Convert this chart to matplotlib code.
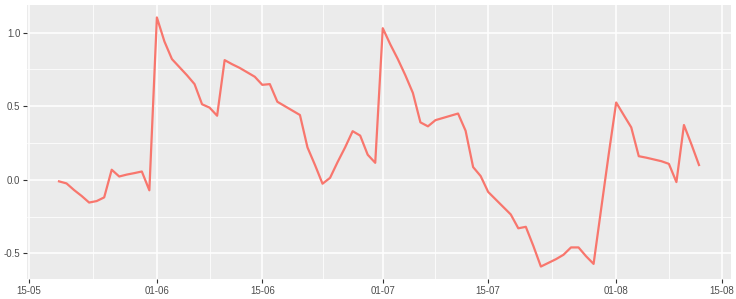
import datetime as dt

import matplotlib
matplotlib.use('Agg')
import matplotlib.pyplot as plt
import matplotlib.dates as mdates
import numpy as np

plt.rcParams['font.family'] = ['Liberation Sans', 'DejaVu Sans']

# daily values
dates = ['2015-05-19', '2015-05-20', '2015-05-21', '2015-05-22', '2015-05-23',
         '2015-05-24', '2015-05-25', '2015-05-26', '2015-05-27', '2015-05-28',
         '2015-05-29', '2015-05-30', '2015-05-31',
         '2015-06-01', '2015-06-02', '2015-06-03', '2015-06-04', '2015-06-05',
         '2015-06-06', '2015-06-07', '2015-06-08', '2015-06-09', '2015-06-10',
         '2015-06-11', '2015-06-12', '2015-06-13', '2015-06-14', '2015-06-15',
         '2015-06-16', '2015-06-17', '2015-06-18', '2015-06-19', '2015-06-20',
         '2015-06-21', '2015-06-22', '2015-06-23', '2015-06-24', '2015-06-25',
         '2015-06-26', '2015-06-27', '2015-06-28', '2015-06-29', '2015-06-30',
         '2015-07-01', '2015-07-02', '2015-07-03', '2015-07-04', '2015-07-05',
         '2015-07-06', '2015-07-07', '2015-07-08', '2015-07-09', '2015-07-10',
         '2015-07-11', '2015-07-12', '2015-07-13', '2015-07-14', '2015-07-15',
         '2015-07-16', '2015-07-17', '2015-07-18', '2015-07-19', '2015-07-20',
         '2015-07-21', '2015-07-22', '2015-07-23', '2015-07-24', '2015-07-25',
         '2015-07-26', '2015-07-27', '2015-07-28', '2015-07-29', '2015-07-30',
         '2015-07-31', '2015-08-01', '2015-08-02', '2015-08-03', '2015-08-04',
         '2015-08-05', '2015-08-06', '2015-08-07', '2015-08-08', '2015-08-09',
         '2015-08-10', '2015-08-11', '2015-08-12']
values = [-0.011, -0.025, -0.07, -0.11, -0.155,
          -0.145, -0.12, 0.068, 0.022, 0.035,
          0.045, 0.056, -0.072,
          1.103, 0.94, 0.82, 0.765, 0.71,
          0.65, 0.513, 0.49, 0.435, 0.813,
          0.785, 0.76, 0.73, 0.70, 0.645,
          0.65, 0.53, 0.50, 0.47, 0.44,
          0.22, 0.10, -0.027, 0.013, 0.12,
          0.22, 0.33, 0.30, 0.17, 0.115,
          1.03, 0.92, 0.82, 0.71, 0.59,
          0.39, 0.363, 0.405, 0.42, 0.435,
          0.45, 0.333, 0.086, 0.025, -0.083,
          -0.134, -0.185, -0.236, -0.33, -0.32,
          -0.45, -0.59, -0.565, -0.54, -0.51,
          -0.46, -0.46, -0.52, -0.572, -0.2,
          0.17, 0.525, 0.44, 0.356, 0.16,
          0.15, 0.138, 0.126, 0.108, -0.016,
          0.372, 0.24, 0.10]

x_breaks = ['2015-05-15', '2015-06-01', '2015-06-15', '2015-07-01', '2015-07-15',
            '2015-08-01', '2015-08-15']
y_breaks = [-0.5, 0.0, 0.5, 1.0]

x = [dt.datetime.strptime(d, '%Y-%m-%d') for d in dates]
xb = [mdates.date2num(dt.datetime.strptime(d, '%Y-%m-%d')) for d in x_breaks]

fig = plt.figure(figsize=(7.36, 2.99), dpi=100)
ax = fig.add_axes([27 / 736, 20 / 299, 704 / 736, 274 / 299])
ax.set_facecolor('#EBEBEB')

ax.plot(x, values, color='#F8766D', lw=1.6, zorder=3)

# ggplot-like limits (5% expansion)
xn = mdates.date2num(x)
xr = xn.max() - xn.min()
ax.set_xlim(xn.min() - 0.05 * xr, xn.max() + 0.05 * xr)
yr = max(values) - min(values)
ax.set_ylim(min(values) - 0.05 * yr, max(values) + 0.05 * yr)

ax.set_xticks(xb)
ax.set_xticklabels([dt.datetime.strptime(d, '%Y-%m-%d').strftime('%d-%m') for d in x_breaks])
ax.set_yticks(y_breaks)
ax.set_yticklabels(['-0.5', '0.0', '0.5', '1.0'])

# minor grid at midpoints
xm = [(xb[i] + xb[i + 1]) / 2 for i in range(len(xb) - 1)]
ym = [(y_breaks[i] + y_breaks[i + 1]) / 2 for i in range(len(y_breaks) - 1)]
ax.set_xticks(xm, minor=True)
ax.set_yticks(ym, minor=True)

ax.grid(True, which='major', color='white', lw=1.1)
ax.grid(True, which='minor', color='white', lw=0.55)
ax.set_axisbelow(True)

for s in ax.spines.values():
    s.set_visible(False)

ax.tick_params(which='major', length=2.7, width=0.8, color='#333333',
               labelsize=7, labelcolor='#4D4D4D', pad=2)
ax.tick_params(which='minor', length=0)

fig.savefig('out.png', dpi=100)
